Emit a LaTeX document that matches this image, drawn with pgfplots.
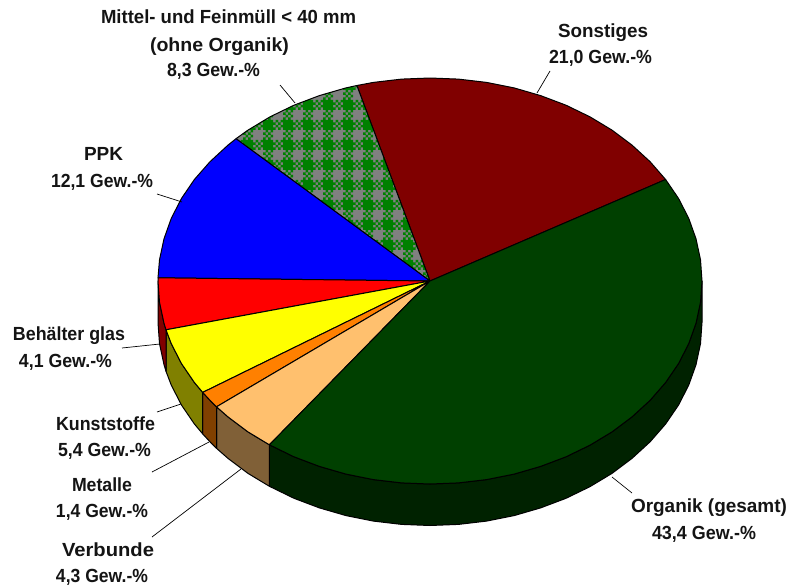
\documentclass[border=0pt]{standalone}
\usepackage{graphicx}
\usepackage{fontspec}
\setmainfont{Liberation Sans}
\usepackage{pgfplots}
\pgfplotsset{compat=1.18}
\usetikzlibrary{patterns}
\definecolor{cOrg}{RGB}{0,64,0}
\definecolor{cOrgS}{RGB}{0,34,0}
\definecolor{cSon}{RGB}{128,0,0}
\definecolor{cPeach}{RGB}{255,192,110}
\definecolor{cPeachS}{RGB}{128,96,55}
\definecolor{cOr}{RGB}{255,128,0}
\definecolor{cOrS}{RGB}{128,64,0}
\definecolor{cYel}{RGB}{255,255,0}
\definecolor{cYelS}{RGB}{128,128,0}
\definecolor{cRed}{RGB}{255,0,0}
\definecolor{cBlu}{RGB}{0,0,255}
\definecolor{cRedS}{RGB}{128,0,0}
\definecolor{cPG}{RGB}{0,128,0}
\definecolor{cPY}{RGB}{128,128,128}
\pgfdeclarepatterninherentlycolored{plaidgg}{\pgfqpoint{-2pt}{-9pt}}{\pgfqpoint{18pt}{11pt}}{\pgfqpoint{20pt}{20pt}}{%
  \pgfsetfillcolor{cPG}\pgfpathrectangle{\pgfqpoint{3pt}{-4pt}}{\pgfqpoint{10pt}{10pt}}%
  \foreach \ox/\oy in {-7/-4,3/6,3/-14,13/-4}{%
    \foreach \ix/\iy in {0/0,5/0,2.5/2.5,7.5/2.5,0/5,5/5,2.5/7.5,7.5/7.5}{%
      \pgfmathsetlengthmacro\px{\ox+\ix}\pgfmathsetlengthmacro\py{\oy+\iy}%
      \pgfpathrectangle{\pgfpoint{\px}{\py}}{\pgfqpoint{2.5pt}{2.5pt}}}}%
  \pgfusepath{fill}}
\newsavebox\mybox
\newcommand\fit[2]{\sbox\mybox{#2}\pgfmathsetmacro\rr{#1/(\the\wd\mybox)}\scalebox{\rr}[1]{\usebox\mybox}}
\newcommand\lab[4]{\node[anchor=base,inner sep=0pt,text=black!92] at (axis cs:#1,#2) {\fontsize{19}{20}\selectfont\bfseries\fit{#3}{#4}};}
\begin{document}
\begin{tikzpicture}
\begin{axis}[scale only axis,width=790pt,height=586pt,xmin=0,xmax=790,ymin=0,ymax=586,y dir=reverse,hide axis,clip=false,
  every axis plot/.append style={line join=round}]
\path (rel axis cs:0,0) rectangle (rel axis cs:1,1);
% side walls
\addplot[draw=black,line width=1pt,fill=cOrgS] coordinates {(269.4,444.8)(294,456.8)(319.4,466.4)(346,474.1)(373.4,479.6)(401.6,482.9)(430,484)(458.4,482.9)(486.6,479.6)(514.1,474.1)(540.6,466.4)(566,456.8)(589.9,445.2)(612,431.9)(632.1,416.8)(650.1,400.3)(665.6,382.5)(678.5,363.6)(688.7,343.7)(696,323.2)(700.5,302.2)(702,281)(702,322.5)(700.5,343.7)(696,364.7)(688.7,385.2)(678.5,405.1)(665.6,424)(650.1,441.8)(632.1,458.3)(612,473.4)(589.9,486.7)(566,498.3)(540.6,507.9)(514.1,515.6)(486.6,521.1)(458.4,524.4)(430,525.5)(401.6,524.4)(373.4,521.1)(346,515.6)(319.4,507.9)(294,498.3)(269.4,486.3)} --cycle;
\addplot[draw=black,line width=1pt,fill=cPeachS] coordinates {(216.5,406.8)(227.9,416.8)(248,431.9)(269.4,444.8)(269.4,486.3)(248,473.4)(227.9,458.3)(216.5,448.3)} --cycle;
\addplot[draw=black,line width=1pt,fill=cOrS] coordinates {(202.7,392.4)(210,400.3)(216.5,406.8)(216.5,448.3)(210,441.8)(202.7,433.9)} --cycle;
\addplot[draw=black,line width=1pt,fill=cYelS] coordinates {(166,329.8)(171.3,343.7)(181.5,363.6)(194.4,382.5)(202.7,392.4)(202.7,433.9)(194.4,424)(181.5,405.1)(171.3,385.2)(166,371.3)} --cycle;
\addplot[draw=black,line width=1pt,fill=cRedS] coordinates {(158,281)(159.5,302.2)(164,323.2)(166,329.8)(166,371.3)(164,364.7)(159.5,343.7)(158,322.5)} --cycle;
% top faces
\addplot[draw=black,line width=1pt,fill=cSon] coordinates {(430,281)(665.6,179.5)(650.1,161.7)(632.1,145.2)(612,130.1)(589.9,116.8)(566,105.2)(540.6,95.6)(514.1,87.9)(486.6,82.4)(458.4,79.1)(430,78)(401.6,79.1)(373.4,82.4)(356.9,85.5)} --cycle;
\addplot[draw=none,fill=cPY] coordinates {(430,281)(356.9,85.5)(346,87.9)(319.4,95.6)(294,105.2)(270.1,116.8)(248,130.1)(236,138.7)} --cycle;
\addplot[draw=black,line width=1pt,pattern=plaidgg] coordinates {(430,281)(356.9,85.5)(346,87.9)(319.4,95.6)(294,105.2)(270.1,116.8)(248,130.1)(236,138.7)} --cycle;
\addplot[draw=black,line width=1pt,fill=cBlu] coordinates {(430,281)(236,138.7)(227.9,145.2)(210,161.7)(194.4,179.5)(181.5,198.4)(171.3,218.3)(164,238.8)(159.5,259.8)(158,277.8)} --cycle;
\addplot[draw=black,line width=1pt,fill=cRed] coordinates {(430,281)(158,277.8)(158,281)(159.5,302.2)(164,323.2)(166,329.8)} --cycle;
\addplot[draw=black,line width=1pt,fill=cYel] coordinates {(430,281)(166,329.8)(171.3,343.7)(181.5,363.6)(194.4,382.5)(202.7,392.4)} --cycle;
\addplot[draw=black,line width=1pt,fill=cOr] coordinates {(430,281)(202.7,392.4)(210,400.3)(216.5,406.8)} --cycle;
\addplot[draw=black,line width=1pt,fill=cPeach] coordinates {(430,281)(216.5,406.8)(227.9,416.8)(248,431.9)(269.4,444.8)} --cycle;
\addplot[draw=black,line width=1pt,fill=cOrg] coordinates {(430,281)(269.4,444.8)(294,456.8)(319.4,466.4)(346,474.1)(373.4,479.6)(401.6,482.9)(430,484)(458.4,482.9)(486.6,479.6)(514.1,474.1)(540.6,466.4)(566,456.8)(589.9,445.2)(612,431.9)(632.1,416.8)(650.1,400.3)(665.6,382.5)(678.5,363.6)(688.7,343.7)(696,323.2)(700.5,302.2)(702,281)(700.5,259.8)(696,238.8)(688.7,218.3)(678.5,198.4)(665.6,179.5)} --cycle;
% leader lines
\addplot[black,line width=0.7pt] coordinates {(280,85)(295,103)};
\addplot[black,line width=0.7pt] coordinates {(550,71)(537,93)};
\addplot[black,line width=0.7pt] coordinates {(157,194)(182,202)};
\addplot[black,line width=0.7pt] coordinates {(122,348)(160,344)};
\addplot[black,line width=0.7pt] coordinates {(157,412)(181,404)};
\addplot[black,line width=0.7pt] coordinates {(152,472)(209,442)};
\addplot[black,line width=0.7pt] coordinates {(152,537)(241,469)};
\addplot[black,line width=0.7pt] coordinates {(612,477)(632,493)};
% labels
\lab{228.5}{24}{255}{Mittel- und Feinmüll < 40 mm}
\lab{219.5}{52}{139}{(ohne Organik)}
\lab{213.5}{77}{93}{8,3 Gew.-\%}
\lab{603}{38}{90}{Sonstiges}
\lab{600.5}{64}{103}{21,0 Gew.-\%}
\lab{103.5}{160}{39}{PPK}
\lab{102}{187}{102}{12,1 Gew.-\%}
\lab{69}{340}{112}{Behälter glas}
\lab{65.5}{367}{93}{4,1 Gew.-\%}
\lab{105.5}{430}{99}{Kunststoffe}
\lab{104.5}{456}{93}{5,4 Gew.-\%}
\lab{102}{491}{60}{Metalle}
\lab{102}{517}{92}{1,4 Gew.-\%}
\lab{108}{556}{92}{Verbunde}
\lab{102}{582}{92}{4,3 Gew.-\%}
\lab{709}{512}{156}{Organik (gesamt)}
\lab{704}{539}{104}{43,4 Gew.-\%}
\end{axis}
\end{tikzpicture}
\end{document}
